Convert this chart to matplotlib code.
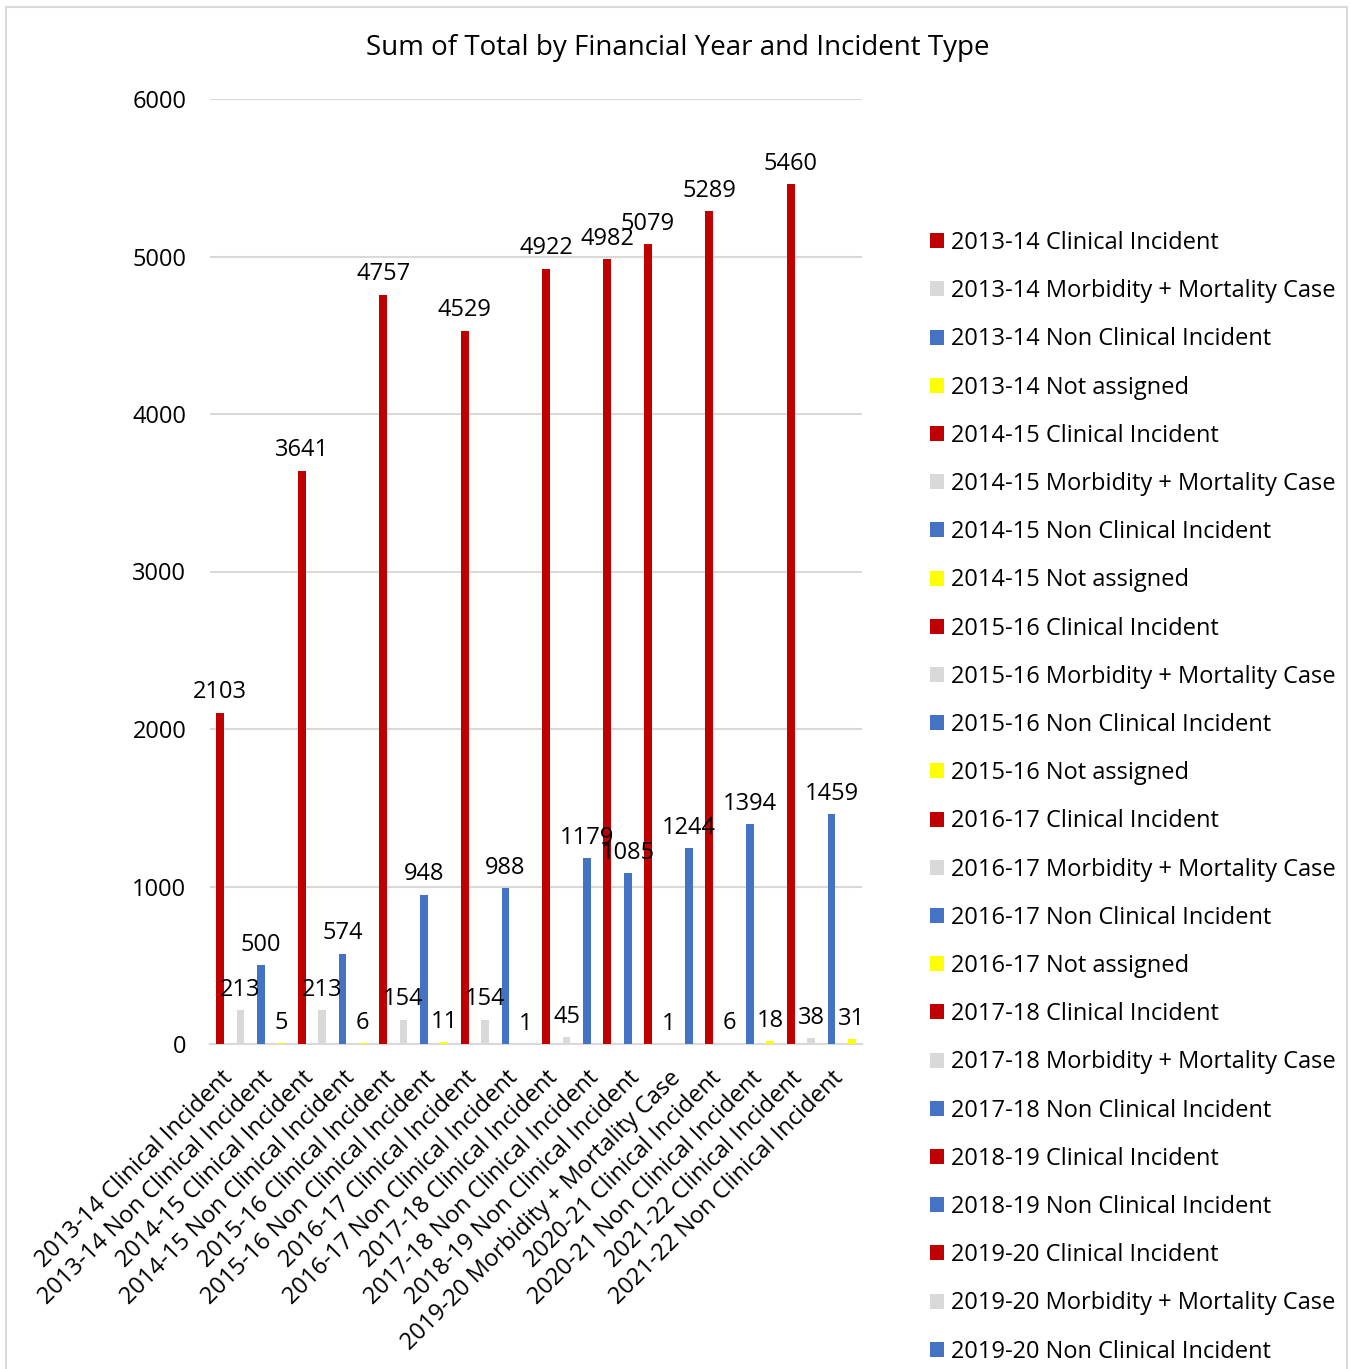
import matplotlib
matplotlib.use("Agg")
import matplotlib.pyplot as plt
from matplotlib.patches import Rectangle

plt.rcParams['font.family'] = ['Open Sans', 'DejaVu Sans']

# Categories (financial year + incident type) and their summed totals
categories = [
    "2013-14 Clinical Incident", "2013-14 Morbidity + Mortality Case",
    "2013-14 Non Clinical Incident", "2013-14 Not assigned",
    "2014-15 Clinical Incident", "2014-15 Morbidity + Mortality Case",
    "2014-15 Non Clinical Incident", "2014-15 Not assigned",
    "2015-16 Clinical Incident", "2015-16 Morbidity + Mortality Case",
    "2015-16 Non Clinical Incident", "2015-16 Not assigned",
    "2016-17 Clinical Incident", "2016-17 Morbidity + Mortality Case",
    "2016-17 Non Clinical Incident", "2016-17 Not assigned",
    "2017-18 Clinical Incident", "2017-18 Morbidity + Mortality Case",
    "2017-18 Non Clinical Incident",
    "2018-19 Clinical Incident", "2018-19 Non Clinical Incident",
    "2019-20 Clinical Incident", "2019-20 Morbidity + Mortality Case",
    "2019-20 Non Clinical Incident",
    "2020-21 Clinical Incident", "2020-21 Morbidity + Mortality Case",
    "2020-21 Non Clinical Incident", "2020-21 Not assigned",
    "2021-22 Clinical Incident", "2021-22 Morbidity + Mortality Case",
    "2021-22 Non Clinical Incident", "2021-22 Not assigned",
]
totals = [2103, 213, 500, 5, 3641, 213, 574, 6, 4757, 154, 948, 11,
          4529, 154, 988, 1, 4922, 45, 1179, 4982, 1085, 5079, 1, 1244,
          5289, 6, 1394, 18, 5460, 38, 1459, 31]
y_ticks = [0, 1000, 2000, 3000, 4000, 5000, 6000]

type_colors = {
    "Clinical Incident": "#C00000",
    "Morbidity + Mortality Case": "#D9D9D9",
    "Non Clinical Incident": "#4472C4",
    "Not assigned": "#FFFF00",
}

def color_for(name):
    return type_colors[name.split(" ", 1)[1]]

W, H = 1351, 1369
fig = plt.figure(figsize=(W / 100, H / 100), dpi=100)
ax = fig.add_axes([210 / W, 1 - 1044 / H, 652 / W, 945 / H])

fs = 17
for i, (name, val) in enumerate(zip(categories, totals)):
    bars = ax.bar(i, val, width=0.38, color=color_for(name), label=name, zorder=3)
    ax.bar_label(bars, labels=[str(val)], padding=6, fontsize=fs,
                 color="#000000", zorder=5)

ax.set_xlim(-0.5, len(categories) - 0.5)
ax.set_ylim(0, 6000)
ax.set_yticks(y_ticks)
ax.tick_params(axis="y", length=0, pad=17, labelsize=fs)
ax.grid(axis="y", color="#D9D9D9", linewidth=1.5, zorder=0)
for side in ["top", "right", "left"]:
    ax.spines[side].set_visible(False)
ax.spines["bottom"].set_color("#D9D9D9")
ax.spines["bottom"].set_linewidth(1.5)

# only every other category gets a tick label
ax.set_xticks(range(0, len(categories), 2))
ax.set_xticklabels(categories[::2], rotation=45, ha="right", va="top",
                   rotation_mode="anchor", fontsize=fs)
ax.tick_params(axis="x", length=0, pad=16)

fig.text(677.5 / W, 1 - 48 / H, "Sum of Total by Financial Year and Incident Type",
         ha="center", va="center", fontsize=20)

# the chart area only has room for the first 24 legend rows
handles, labels = ax.get_legend_handles_labels()
ax.legend(handles[:24], labels[:24], loc="upper left",
          bbox_to_anchor=(930 / W, 1 - 231 / H),
          bbox_transform=fig.transFigure, frameon=False, fontsize=fs,
          handlelength=0.6, handleheight=0.6, handletextpad=0.3,
          labelspacing=1.025, borderaxespad=0, borderpad=0)

fig.patches.append(Rectangle((6 / W, -0.05), 1341 / W, 1.05 - 7 / H,
                             transform=fig.transFigure, fill=False,
                             edgecolor="#D9D9D9", linewidth=1.5))

fig.savefig("out.png", dpi=100)
